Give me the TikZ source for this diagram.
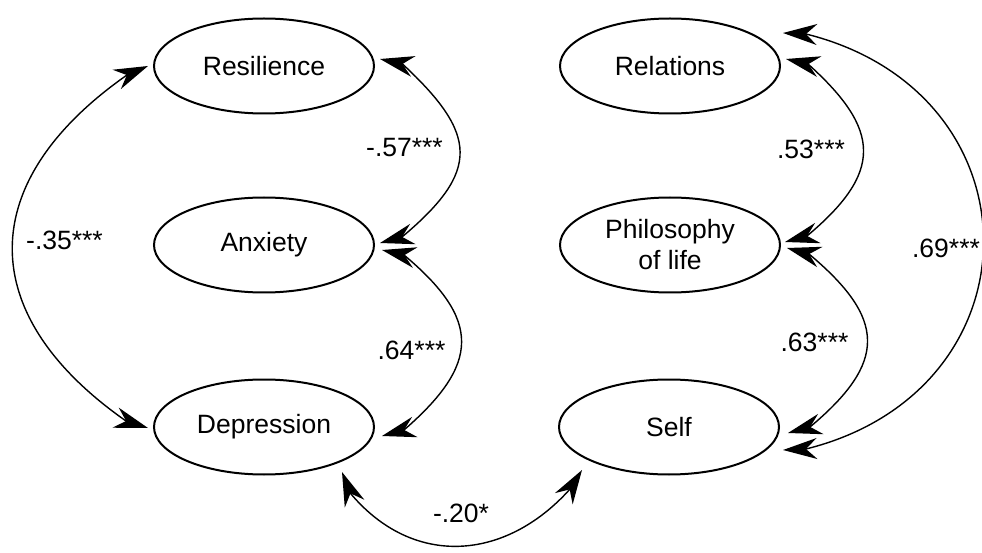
\documentclass[tikz,border=0pt]{standalone}
\usepackage{fontspec}
\setmainfont{Liberation Sans}
\usetikzlibrary{arrows.meta,shapes.geometric}
\begin{document}
\begin{tikzpicture}[x=1pt,y=1pt,
  latent/.style={draw, ellipse, line width=2pt, minimum width=220pt,
    minimum height=95pt, inner sep=0pt, align=center,
    font=\fontsize{26.5}{31}\selectfont},
  corr/.style={line width=1.4pt,
    {Stealth[length=34pt,width=21pt,inset=11pt]}-{Stealth[length=34pt,width=21pt,inset=11pt]}},
  coef/.style={inner sep=0pt, font=\fontsize{26.5}{31}\selectfont}]
\fill[white] (0,0) rectangle (982,552);
\useasboundingbox (0,0) rectangle (982,552);

% latent variables
\node[latent] (res)  at (264,486) {Resilience};
\node[latent] (anx)  at (264,307) {Anxiety};
\node[latent] (dep)  at (264,125) {Depression};
\node[latent] (rel)  at (670,486) {Relations};
\node[latent] (phil) at (670,307) {Philosophy\\of life};
\node[latent] (self) at (669,125) {Self};

% correlations (each head sits on a short straight lead-in)
\draw[corr] ([shift={(116,7)}]res.center) -- ([shift={(138.5,2)}]res.center)
  to[out=-43,in=40,distance=103pt] ([shift={(138,8)}]anx.center) -- ([shift={(116,2)}]anx.center);
\draw[corr] ([shift={(118,-5)}]anx.center) -- ([shift={(140,-10)}]anx.center)
  to[out=-40,in=41,distance=101pt] ([shift={(140,-3)}]dep.center) -- ([shift={(118,-9)}]dep.center);
\draw[corr] ([shift={(-116,0)}]res.center) -- ([shift={(-137,-9)}]res.center)
  to[out=215,in=145,distance=186pt] ([shift={(-138,6)}]dep.center) -- ([shift={(-116,-1)}]dep.center);
\draw[corr] ([shift={(78,-45)}]dep.center) -- ([shift={(86.5,-66.4)}]dep.center)
  to[out=-50,in=228,distance=97pt] ([shift={(-99.3,-62.4)}]self.center) -- ([shift={(-87,-43)}]self.center);
\draw[corr] ([shift={(116,7)}]rel.center) -- ([shift={(138,2)}]rel.center)
  to[out=-42,in=40,distance=99pt] ([shift={(137,9)}]phil.center) -- ([shift={(115,3)}]phil.center);
\draw[corr] ([shift={(117,-3)}]phil.center) -- ([shift={(139,-9)}]phil.center)
  to[out=-40,in=40,distance=101pt] ([shift={(141,0)}]self.center) -- ([shift={(119,-6)}]self.center);
\draw[corr] ([shift={(113,33)}]rel.center) -- ([shift={(136,32)}]rel.center)
  to[out=-14,in=14,distance=244pt] ([shift={(137,-22)}]self.center) -- ([shift={(114,-23)}]self.center);

% coefficients
\node[coef] (c1) at (404.5,404) {-.57***};
\node[coef] (c2) at (411.5,202) {.64***};
\node[coef] (c3) at (64.5,312) {-.35***};
\node[coef] (c4) at (461,39) {-.20*};
\node[coef] (c5) at (811,403) {.53***};
\node[coef] (c6) at (814.5,210) {.63***};
\node[coef] (c7) at (946,303.5) {.69***};
\end{tikzpicture}
\end{document}
